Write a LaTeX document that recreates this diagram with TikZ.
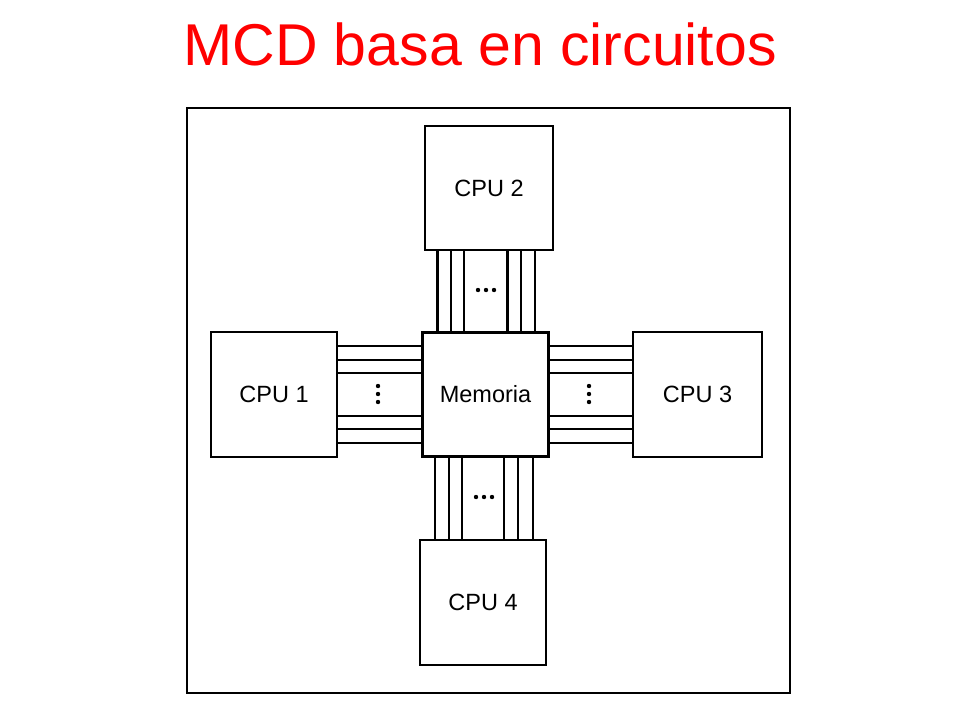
\documentclass[tikz,border=0pt]{standalone}
\usepackage{fontspec}
\setmainfont{Liberation Sans}
\begin{document}
\begin{tikzpicture}[x=1pt,y=-1pt,
  box/.style={draw,line width=2.3pt,inner sep=0pt,font=\fontsize{23.5}{26}\selectfont},
  bus/.style={line width=2.1pt},
  frame/.style={draw,line width=2.4pt}]
\useasboundingbox (0,0) rectangle (960,720);
\node[text=red,font=\fontsize{59}{64}\selectfont] (title) at (480,44) {MCD basa en circuitos};
\draw[frame] (187,108) rectangle (790,693);
\node[box,minimum width=128pt,minimum height=124pt] (cpu2) at (489,188) {CPU 2};
\node[box,minimum width=126pt,minimum height=124pt] (mem) at (485.5,394.5) {Memoria};
\node[box,minimum width=126pt,minimum height=125pt] (cpu1) at (274,394.5) {CPU 1};
\node[box,minimum width=129pt,minimum height=125pt] (cpu3) at (697.5,394.5) {CPU 3};
\node[box,minimum width=126pt,minimum height=125pt] (cpu4) at (483,602.5) {CPU 4};
% top bus
\foreach \xx in {437.5,451,464,507.5,521,535}
  \draw[bus] (cpu2.south -| \xx,0) -- (mem.north -| \xx,0);
% bottom bus
\foreach \xx in {435,449,462,504,518,533}
  \draw[bus] (mem.south -| \xx,0) -- (cpu4.north -| \xx,0);
% left bus
\foreach \yy in {346,360,373,416,429,443}
  \draw[bus] (cpu1.east |- 0,\yy) -- (mem.west |- 0,\yy);
% right bus
\foreach \yy in {346,360,373,416,429,443}
  \draw[bus] (mem.east |- 0,\yy) -- (cpu3.west |- 0,\yy);
% dots
\foreach \dd in {-8,0,8} {
  \fill (486+\dd,290) circle (2.2pt);
  \fill (484+\dd,497) circle (2.2pt);
  \fill (378,394+\dd) circle (2.2pt);
  \fill (589,394+\dd) circle (2.2pt);
}
\end{tikzpicture}
\end{document}
